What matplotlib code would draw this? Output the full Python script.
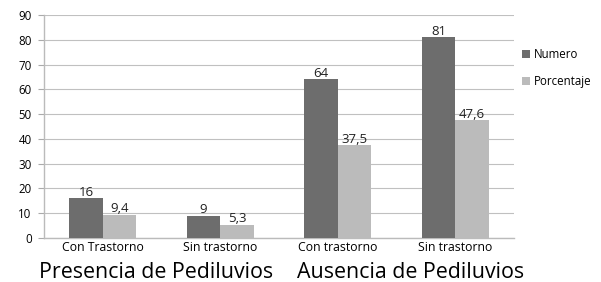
import matplotlib
matplotlib.use("Agg")
import matplotlib.pyplot as plt
import numpy as np

categories = ["Con Trastorno", "Sin trastorno", "Con trastorno", "Sin trastorno"]
numero = [16, 9, 64, 81]
porcentaje = [9.4, 5.3, 37.5, 47.6]
numero_labels = ["16", "9", "64", "81"]
porcentaje_labels = ["9,4", "5,3", "37,5", "47,6"]
groups = ["Presencia de Pediluvios", "Ausencia de Pediluvios"]
yticks = [0, 10, 20, 30, 40, 50, 60, 70, 80, 90]

plt.rcParams['font.family'] = ['Open Sans', 'DejaVu Sans']

fig = plt.figure(figsize=(6.01, 2.82), dpi=100)
ax = fig.add_axes([44/601, 1-238/282, 470/601, 223/282])

x = np.arange(len(categories))
w = 0.285
dark = "#6d6d6d"
light = "#bbbbbb"
b1 = ax.bar(x - w/2, numero, w, color=dark, label="Numero", zorder=3)
b2 = ax.bar(x + w/2, porcentaje, w, color=light, label="Porcentaje", zorder=3)

for rect, lab in zip(b1, numero_labels):
    ax.text(rect.get_x() + rect.get_width()/2, rect.get_height() - 0.2, lab,
            ha="center", va="bottom", fontsize=9.5, color="#222222", zorder=4)
for rect, lab in zip(b2, porcentaje_labels):
    ax.text(rect.get_x() + rect.get_width()/2, rect.get_height() - 0.2, lab,
            ha="center", va="bottom", fontsize=9.5, color="#222222", zorder=4)

ax.set_xlim(-0.5, len(categories) - 0.5)
ax.set_ylim(0, 90)
ax.set_yticks(yticks)
ax.set_xticks(x)
ax.set_xticklabels(categories, fontsize=8.8)
ax.tick_params(axis='y', labelsize=8.3, length=4, color="#aaaaaa", pad=5)
ax.tick_params(axis='x', length=0, pad=2)
ax.grid(axis='y', color="#c0c0c0", linewidth=0.8, zorder=0)
for s in ["top", "right"]:
    ax.spines[s].set_visible(False)
ax.spines["left"].set_color("#bbbbbb")
ax.spines["bottom"].set_color("#bbbbbb")
ax.spines["left"].set_linewidth(1)
ax.spines["bottom"].set_linewidth(1)

leg = ax.legend(loc="upper left", bbox_to_anchor=(512/601, 1-38/282), bbox_transform=fig.transFigure,
                frameon=False, fontsize=8.3, handlelength=0.7, handleheight=0.7,
                handletextpad=0.3, labelspacing=1.2)

fig.text(156/601, 1-272/282, groups[0], ha="center", va="center", fontsize=15.4)
fig.text(411/601, 1-272/282, groups[1], ha="center", va="center", fontsize=15.4)

fig.savefig("out.png", dpi=100)
